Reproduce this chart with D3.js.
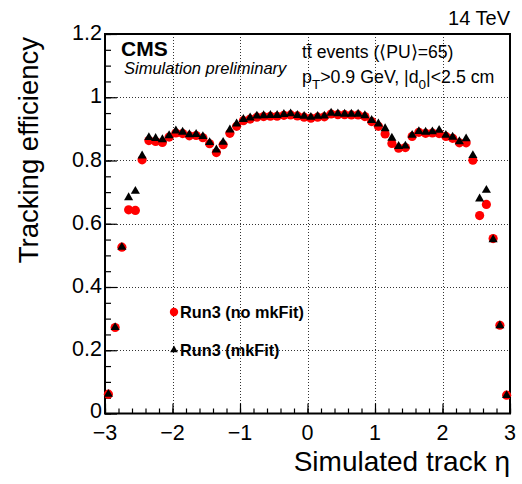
<!DOCTYPE html>
<html>
<head>
<meta charset="utf-8">
<script src="https://cdn.jsdelivr.net/npm/d3@7"></script>
<style>
  body { margin: 0; background: #fff; }
  svg { display: block; font-family: "Liberation Sans", Arial, Helvetica, sans-serif; }
</style>
</head>
<body>
<svg id="chart"></svg>
<script>
// eta bin centres (0.1 wide bins from -3 to 3)
const etaBins = [
  -2.95, -2.85, -2.75, -2.65, -2.55, -2.45, -2.35, -2.25, -2.15, -2.05,
  -1.95, -1.85, -1.75, -1.65, -1.55, -1.45, -1.35, -1.25, -1.15, -1.05,
  -0.95, -0.85, -0.75, -0.65, -0.55, -0.45, -0.35, -0.25, -0.15, -0.05,
   0.05,  0.15,  0.25,  0.35,  0.45,  0.55,  0.65,  0.75,  0.85,  0.95,
   1.05,  1.15,  1.25,  1.35,  1.45,  1.55,  1.65,  1.75,  1.85,  1.95,
   2.05,  2.15,  2.25,  2.35,  2.45,  2.55,  2.65,  2.75,  2.85,  2.95
];

// Run3 (no mkFit) - red circles
const effNoMkFit = [
  0.061, 0.272, 0.526, 0.644, 0.642, 0.802, 0.863, 0.860, 0.857, 0.874,
  0.887, 0.885, 0.878, 0.879, 0.872, 0.853, 0.825, 0.850, 0.886, 0.908,
  0.926, 0.931, 0.937, 0.939, 0.940, 0.940, 0.943, 0.944, 0.941, 0.937,
  0.934, 0.937, 0.938, 0.947, 0.945, 0.945, 0.944, 0.944, 0.939, 0.923,
  0.908, 0.884, 0.854, 0.839, 0.841, 0.876, 0.889, 0.886, 0.887, 0.885,
  0.876, 0.870, 0.856, 0.856, 0.801, 0.626, 0.661, 0.553, 0.279, 0.058
];

// Run3 (mkFit) - black triangles
const effMkFit = [
  0.061, 0.272, 0.526, 0.683, 0.703, 0.815, 0.873, 0.870, 0.866, 0.879,
  0.894, 0.890, 0.882, 0.883, 0.876, 0.857, 0.834, 0.858, 0.897, 0.916,
  0.930, 0.935, 0.941, 0.942, 0.943, 0.943, 0.946, 0.948, 0.943, 0.940,
  0.937, 0.940, 0.941, 0.950, 0.948, 0.947, 0.947, 0.947, 0.942, 0.927,
  0.916, 0.901, 0.871, 0.845, 0.846, 0.880, 0.892, 0.890, 0.891, 0.896,
  0.880, 0.874, 0.860, 0.869, 0.816, 0.679, 0.706, 0.550, 0.278, 0.057
];

const xTicks = [-3, -2, -1, 0, 1, 2, 3];
const yTicks = [0, 0.2, 0.4, 0.6, 0.8, 1, 1.2];
const legendNames = ["Run3 (no mkFit)", "Run3 (mkFit)"];

const W = 522, H = 484;
const x0 = 105, x1 = 510, yTop = 34, yBot = 413.5;

const svg = d3.select("#chart").attr("width", W).attr("height", H);

const x = d3.scaleLinear().domain([-3, 3]).range([x0, x1]);
const y = d3.scaleLinear().domain([0, 1.2]).range([yBot, yTop]);

// grid lines (dotted)
const grid = svg.append("g").attr("stroke", "#333").attr("stroke-width", 1)
  .attr("stroke-dasharray", "1,2");
grid.selectAll(".gx").data(xTicks.slice(1, -1)).join("line")
  .attr("x1", d => Math.round(x(d)) + 0.5).attr("x2", d => Math.round(x(d)) + 0.5)
  .attr("y1", yTop).attr("y2", yBot);
grid.selectAll(".gy").data(yTicks.slice(1, -1)).join("line")
  .attr("x1", x0).attr("x2", x1)
  .attr("y1", d => Math.round(y(d)) + 0.5).attr("y2", d => Math.round(y(d)) + 0.5);

// axes with inward ticks
const xMinor = d3.range(-3, 3.001, 0.2);
const yMinor = d3.range(0, 1.2001, 0.05);

const xAxisG = svg.append("g").attr("transform", `translate(0,${yBot})`);
xAxisG.call(d3.axisTop(x).tickValues(xMinor).tickSize(5).tickFormat(""));
xAxisG.append("g").call(d3.axisTop(x).tickValues(xTicks).tickSize(10).tickFormat(""));
xAxisG.selectAll("path.domain").remove();
xAxisG.selectAll("line").attr("stroke", "#000").attr("stroke-width", 1.2);

const yAxisG = svg.append("g").attr("transform", `translate(${x0},0)`);
yAxisG.call(d3.axisRight(y).tickValues(yMinor).tickSize(6).tickFormat(""));
yAxisG.append("g").call(d3.axisRight(y).tickValues(yTicks).tickSize(12).tickFormat(""));
yAxisG.selectAll("path.domain").remove();
yAxisG.selectAll("line").attr("stroke", "#000").attr("stroke-width", 1.2);

// tick labels
svg.append("g").selectAll("text").data(xTicks).join("text")
  .attr("x", d => x(d)).attr("y", yBot + 26)
  .attr("text-anchor", "middle").attr("font-size", 21.5)
  .text(d => d < 0 ? "\u2212" + Math.abs(d) : d);
svg.append("g").selectAll("text").data(yTicks).join("text")
  .attr("x", x0 - 3).attr("y", d => y(d) + (d === 0 ? 4 : 6))
  .attr("text-anchor", "end").attr("font-size", 21.5)
  .text(d => d3.format("~g")(d));

// frame
svg.append("rect").attr("x", x0).attr("y", yTop)
  .attr("width", x1 - x0).attr("height", yBot - yTop)
  .attr("fill", "none").attr("stroke", "#000").attr("stroke-width", 2);

// data points
const rows = etaBins.map((eta, i) => ({ eta, a: effNoMkFit[i], b: effMkFit[i] }));
svg.append("g").selectAll("circle").data(rows).join("circle")
  .attr("cx", d => x(d.eta)).attr("cy", d => y(d.a)).attr("r", 4.6)
  .attr("fill", "#ff0000");
const tri = d3.symbol().type(d3.symbolTriangle).size(36);
svg.append("g").selectAll("path").data(rows).join("path")
  .attr("transform", d => `translate(${x(d.eta)},${y(d.b)})`)
  .attr("d", tri).attr("fill", "#000");

// legend
const leg = svg.append("g");
leg.append("circle").attr("cx", 174).attr("cy", 312).attr("r", 4.2).attr("fill", "#ff0000");
leg.append("path").attr("transform", "translate(174,350)")
  .attr("d", d3.symbol().type(d3.symbolTriangle).size(26)).attr("fill", "#000");
leg.selectAll("text").data(legendNames).join("text")
  .attr("x", 180).attr("y", (d, i) => 318 + i * 38)
  .attr("font-size", 16.3).attr("font-weight", "bold")
  .text(d => d);

// axis titles
svg.append("text").attr("x", x1).attr("y", 471)
  .attr("text-anchor", "end").attr("font-size", 28)
  .text("Simulated track \u03b7");
svg.append("text")
  .attr("transform", `translate(38,${yTop + 3}) rotate(-90)`)
  .attr("text-anchor", "end").attr("font-size", 27.5)
  .text("Tracking efficiency");

// CMS labels
svg.append("text").attr("x", 121).attr("y", 56)
  .attr("font-size", 21).attr("font-weight", "bold").text("CMS");
svg.append("text").attr("x", 124).attr("y", 74)
  .attr("font-size", 16.5).attr("font-style", "italic").text("Simulation preliminary");

svg.append("text").attr("x", x1).attr("y", 25)
  .attr("text-anchor", "end").attr("font-size", 20).text("14 TeV");

// sample info
svg.append("text").attr("x", 302).attr("y", 58).attr("font-size", 17.6)
  .text("tt\u0304 events (\u27e8PU\u27e9=65)");
const info = svg.append("text").attr("x", 302).attr("y", 83).attr("font-size", 17.8);
info.append("tspan").text("p");
info.append("tspan").attr("dy", 6).attr("font-size", 13.5).text("T");
info.append("tspan").attr("dy", -6).text(">0.9 GeV, |d");
info.append("tspan").attr("dy", 6).attr("font-size", 13.5).text("0");
info.append("tspan").attr("dy", -6).text("|<2.5 cm");
</script>
</body>
</html>
